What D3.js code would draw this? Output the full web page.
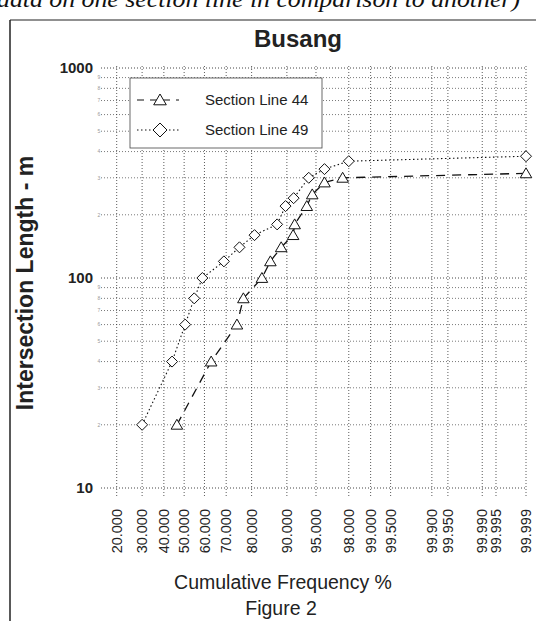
<!DOCTYPE html>
<html><head><meta charset="utf-8">
<script src="https://cdn.jsdelivr.net/npm/d3@7"></script>
<style>body{margin:0;background:#fff} svg{display:block}</style>
</head><body>
<svg id="c" width="536" height="621"></svg>
<script>
// ---- data ----
const xTicks = [20,30,40,50,60,70,80,90,95,98,99,99.5,99.9,99.95,99.99,99.995,99.999];
const xDomain = [15.866, 99.999];
const yDomain = [10, 1000];
const yMajor = [10, 100, 1000];
const yMinor = [20,30,40,50,60,70,80,90,200,300,400,500,600,700,800,900];
const sec44Pct = [46.4, 63.2, 74.5, 77.0, 83.4, 85.9, 88.7, 91.3, 91.6, 93.7, 94.5, 96.0, 97.6, 99.999];
const sec44Val = [20, 40, 60, 80, 100, 120, 140, 160, 180, 220, 250, 285, 300, 315];
const sec49Pct = [30.0, 44.0, 50.5, 55.0, 59.0, 69.0, 75.5, 81.0, 87.7, 89.7, 91.4, 94.0, 96.0, 98.0, 99.999];
const sec49Val = [20, 40, 60, 80, 100, 120, 140, 160, 180, 220, 240, 300, 330, 360, 380];
const seriesNames = ["Section Line 44", "Section Line 49"];

// inverse normal CDF (Acklam)
function probit(p){
  const a=[-39.69683028665376,220.9460984245205,-275.9285104469687,138.3577518672690,-30.66479806614716,2.506628277459239];
  const b=[-54.47609879822406,161.5858368580409,-155.6989798598866,66.80131188771972,-13.28068155288572];
  const c=[-0.007784894002430293,-0.3223964580411365,-2.400758277161838,-2.549732539343734,4.374664141464968,2.938163982698783];
  const d=[0.007784695709041462,0.3224671290700398,2.445134137142996,3.754408661907416];
  const pl=0.02425;
  let q,r;
  if(p<pl){q=Math.sqrt(-2*Math.log(p));return (((((c[0]*q+c[1])*q+c[2])*q+c[3])*q+c[4])*q+c[5])/((((d[0]*q+d[1])*q+d[2])*q+d[3])*q+1);}
  if(p<=1-pl){q=p-0.5;r=q*q;return (((((a[0]*r+a[1])*r+a[2])*r+a[3])*r+a[4])*r+a[5])*q/(((((b[0]*r+b[1])*r+b[2])*r+b[3])*r+b[4])*r+1);}
  q=Math.sqrt(-2*Math.log(1-p));return -(((((c[0]*q+c[1])*q+c[2])*q+c[3])*q+c[4])*q+c[5])/((((d[0]*q+d[1])*q+d[2])*q+d[3])*q+1);
}

const L=104, R=526, T=68, B=488;
const zScale = d3.scaleLinear().domain(xDomain.map(p=>probit(p/100))).range([L,R]);
const x = p => zScale(probit(p/100));
const y = d3.scaleLog().domain(yDomain).range([B,T]);

const svg = d3.select("#c");
const font = "Arial, 'Liberation Sans', sans-serif";

// top cut text
svg.append("text").attr("x",-3).attr("y",7).attr("font-family","'Liberation Serif', serif")
  .attr("font-style","italic").attr("font-size",24).attr("fill","#111")
  .attr("textLength",523).attr("lengthAdjust","spacingAndGlyphs")
  .text("data on one section line in comparison to another)");

// frame
svg.append("line").attr("x1",10).attr("x2",10).attr("y1",20).attr("y2",621).attr("stroke","#222").attr("stroke-width",1.5);
svg.append("line").attr("x1",10).attr("x2",536).attr("y1",20).attr("y2",20).attr("stroke","#222").attr("stroke-width",1.2);

// title
svg.append("text").attr("x",298).attr("y",47).attr("text-anchor","middle").attr("font-family",font)
  .attr("font-weight","bold").attr("font-size",24).attr("fill","#222").text("Busang");

// grid
const g = svg.append("g");
g.selectAll(".hg").data(yMajor.concat(yMinor)).join("line")
  .attr("x1",L-3).attr("x2",R+1).attr("y1",d=>y(d)).attr("y2",d=>y(d))
  .attr("stroke","#333").attr("stroke-width",1).attr("stroke-dasharray","1,2")
  .attr("opacity",d=>yMajor.includes(d)?0.9:0.65);
g.selectAll(".vg").data(xTicks).join("line")
  .attr("x1",d=>x(d)).attr("x2",d=>x(d)).attr("y1",T-2).attr("y2",B+8)
  .attr("stroke","#333").attr("stroke-width",1).attr("stroke-dasharray","1,2").attr("opacity",0.8);

// y axis labels
svg.selectAll(".yl").data(yMajor).join("text")
  .attr("x",93).attr("y",d=>y(d)).attr("dy","0.35em").attr("text-anchor","end")
  .attr("font-family",font).attr("font-weight","bold").attr("font-size",15).attr("fill","#222")
  .text(d=>d);
svg.selectAll(".ym").data(yMinor).join("text")
  .attr("x",99).attr("y",d=>y(d)).attr("dy","0.35em").attr("text-anchor","middle")
  .attr("font-family",font).attr("font-size",5).attr("fill","#999")
  .text(d=>String(d)[0]);

// x axis labels
const fmt = d3.format(".3f");
svg.selectAll(".xl").data(xTicks).join("text")
  .attr("transform",d=>`translate(${x(d)},509) rotate(-90)`)
  .attr("text-anchor","end").attr("dy","0.36em")
  .attr("font-family",font).attr("font-size",14.5).attr("fill","#222")
  .text(d=>fmt(d));

// axis titles
svg.append("text").attr("transform",`translate(33,283) rotate(-90)`).attr("text-anchor","middle")
  .attr("font-family",font).attr("font-weight","bold").attr("font-size",23).attr("fill","#222")
  .text("Intersection Length - m");
svg.append("text").attr("x",283).attr("y",589).attr("text-anchor","middle")
  .attr("font-family",font).attr("font-size",19.5).attr("fill","#222").text("Cumulative Frequency %");
svg.append("text").attr("x",281).attr("y",615).attr("text-anchor","middle")
  .attr("font-family",font).attr("font-size",19.5).attr("fill","#222").text("Figure 2");

// series
const s44 = sec44Pct.map((p,i)=>[p,sec44Val[i]]);
const s49 = sec49Pct.map((p,i)=>[p,sec49Val[i]]);
const line = d3.line().x(d=>x(d[0])).y(d=>y(d[1]));
svg.append("path").attr("d",line(s49)).attr("fill","none").attr("stroke","#111").attr("stroke-width",1.1).attr("stroke-dasharray","1.5,2.5");
svg.append("path").attr("d",line(s44)).attr("fill","none").attr("stroke","#111").attr("stroke-width",1.3).attr("stroke-dasharray","9,7");
function diamondPath(r){return `M0,${-r}L${r},0L0,${r}L${-r},0Z`;}
function triPath(r){return `M0,${-r}L${r*1.05},${r*0.8}L${-r*1.05},${r*0.8}Z`;}
svg.selectAll(".d49").data(s49).join("path")
  .attr("transform",d=>`translate(${x(d[0])},${y(d[1])})`).attr("d",diamondPath(5.5))
  .attr("fill","#fff").attr("stroke","#111").attr("stroke-width",1);
svg.selectAll(".t44").data(s44).join("path")
  .attr("transform",d=>`translate(${x(d[0])},${y(d[1])})`).attr("d",triPath(5.5))
  .attr("fill","#fff").attr("stroke","#111").attr("stroke-width",1);

// legend
const lg = svg.append("g");
lg.append("rect").attr("x",130).attr("y",78).attr("width",192).attr("height",70).attr("fill","#fff").attr("stroke","#444").attr("stroke-width",0.8);
const items = [{name:seriesNames[0],dash:"7,6",mark:triPath(6)},{name:seriesNames[1],dash:"1.5,2.5",mark:diamondPath(7)}];
items.forEach((it,i)=>{
  const yy = 100 + i*30;
  lg.append("line").attr("x1",137).attr("x2",179).attr("y1",yy).attr("y2",yy).attr("stroke","#111").attr("stroke-dasharray",it.dash).attr("stroke-width",1.1);
  lg.append("path").attr("transform",`translate(160,${yy})`).attr("d",it.mark).attr("fill","#fff").attr("stroke","#111");
  lg.append("text").attr("x",205).attr("y",yy).attr("dy","0.35em").attr("font-family",font).attr("font-size",15).attr("fill","#222").text(it.name);
});
</script>
</body></html>
